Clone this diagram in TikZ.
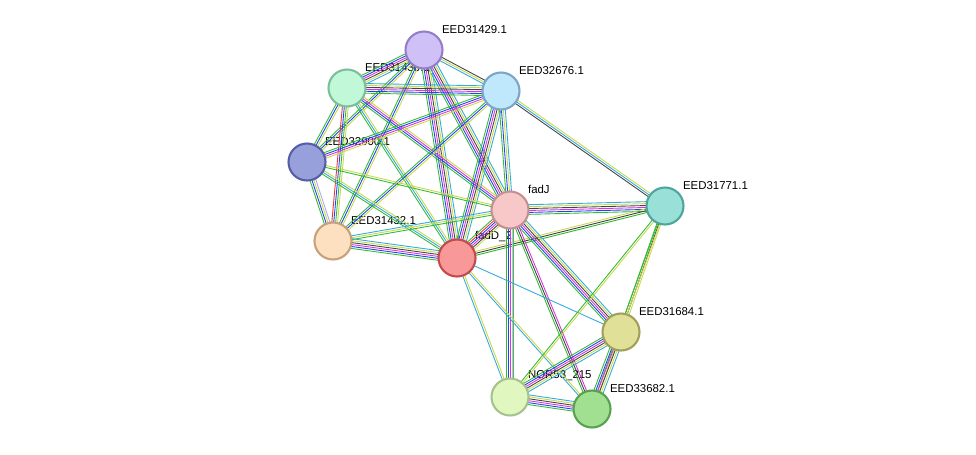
\documentclass[tikz,border=0pt]{standalone}
\usepackage{fontspec}
\setmainfont{Liberation Sans}
\usetikzlibrary{calc}
\definecolor{lgreen}{HTML}{33BB33}
\definecolor{lblue}{HTML}{2244EE}
\definecolor{lmag}{HTML}{DD33DD}
\definecolor{lblack}{HTML}{444444}
\definecolor{lyel}{HTML}{C8D848}
\definecolor{lcyan}{HTML}{33AADD}
\definecolor{lred}{HTML}{EE3333}
\definecolor{llav}{HTML}{B0A8F0}
\definecolor{f29}{HTML}{D0C0F8}\definecolor{d29}{HTML}{967DC8}
\definecolor{f30}{HTML}{C0F8D8}\definecolor{d30}{HTML}{7DBE9B}
\definecolor{f76}{HTML}{C0E8FC}\definecolor{d76}{HTML}{7DA5C8}
\definecolor{f00}{HTML}{98A0DC}\definecolor{d00}{HTML}{555FA5}
\definecolor{fJ}{HTML}{F8C8C8}\definecolor{dJ}{HTML}{C39191}
\definecolor{f71}{HTML}{98E0D8}\definecolor{d71}{HTML}{50A59B}
\definecolor{f32}{HTML}{FDE0C0}\definecolor{d32}{HTML}{C8A07D}
\definecolor{fD}{HTML}{F89898}\definecolor{dD}{HTML}{C34B4B}
\definecolor{f84}{HTML}{E0E098}\definecolor{d84}{HTML}{A0A05A}
\definecolor{fN}{HTML}{E0F8C0}\definecolor{dN}{HTML}{A5C38C}
\definecolor{f82}{HTML}{A0E090}\definecolor{d82}{HTML}{5AA050}
\tikzset{
  prot/.style={circle,draw,line width=1.2pt,minimum size=0.74cm,inner sep=0pt},
  lab/.style={font=\fontsize{6.5}{7}\selectfont,anchor=south west,inner sep=1pt},
}
% one coloured line per colour, side by side
\newcommand{\linkab}[3]{%
  \foreach \c [count=\i] in {#3}{%
    \pgfmathsetmacro{\o}{(\i-1)*1.1-0.55*(\n-1)}%
    \draw[color=\c,line width=0.5pt] ($(#1)!\o pt!90:(#2)$) -- ($(#2)!\o pt!-90:(#1)$);
  }}
\newcommand{\link}[3]{\gdef\n{0}\foreach \c in {#3}{\xdef\n{\the\numexpr\n+1}}\linkab{#1}{#2}{#3}}
\begin{document}
\begin{tikzpicture}[x=0.02cm,y=-0.02cm]
\useasboundingbox (0,0) rectangle (976,454);
% positions
\coordinate (p29) at (424,50);
\coordinate (p30) at (347,88);
\coordinate (p76) at (501,91);
\coordinate (p00) at (307,162);
\coordinate (pJ) at (510,210);
\coordinate (p71) at (665,206);
\coordinate (p32) at (333,241);
\coordinate (pD) at (457,258);
\coordinate (p84) at (621,332);
\coordinate (pN) at (510,397);
\coordinate (p82) at (592,409);
% labels
\node[lab] (l29) at ($(p29)+(16,-14)$) {EED31429.1};
\node[lab] (l30) at ($(p30)+(16,-14)$) {EED31430.1};
\node[lab] (l76) at ($(p76)+(16,-14)$) {EED32676.1};
\node[lab] (l00) at ($(p00)+(16,-14)$) {EED32900.1};
\node[lab] (lJ) at ($(pJ)+(16,-14)$) {fadJ};
\node[lab] (l71) at ($(p71)+(16,-14)$) {EED31771.1};
\node[lab] (l32) at ($(p32)+(16,-14)$) {EED31432.1};
\node[lab] (lD) at ($(pD)+(16,-14)$) {fadD\_2};
\node[lab] (l84) at ($(p84)+(16,-14)$) {EED31684.1};
\node[lab] (lN) at ($(pN)+(16,-14)$) {NOR53\_215};
\node[lab] (l82) at ($(p82)+(16,-14)$) {EED33682.1};
% links
\link{p29}{p30}{lgreen,lblue,lmag,lblack,lyel,lcyan}
\link{p29}{p76}{lcyan,lyel,lblack}
\link{p29}{p00}{lgreen,lblue,lyel}
\link{p29}{pJ}{lgreen,lblue,lmag,lblack,lyel,lcyan}
\link{p29}{pD}{lgreen,lblue,lmag,lblack,lyel,lcyan}
\link{p29}{p32}{lgreen,lblue,lyel}
\link{p30}{p76}{lgreen,lblue,lmag,lblack,lyel,lcyan}
\link{p30}{p00}{lgreen,lblue,lyel}
\link{p30}{p32}{lred,lblue,lgreen,lyel}
\link{p30}{pJ}{lgreen,lblue,lmag,lyel}
\link{p30}{pD}{lgreen,lcyan,lyel}
\link{p76}{p00}{lgreen,lblue,lmag,lyel}
\link{p76}{p32}{lgreen,lblue,lyel}
\link{p76}{pJ}{lgreen,lblue,lyel,lcyan}
\link{p76}{pD}{lgreen,lblue,lmag,lblack,lyel,lcyan}
\link{p76}{p71}{lblack,lcyan,lyel}
\link{p00}{p32}{lgreen,lblue,lyel,llav}
\link{p00}{pJ}{lgreen,lyel}
\link{p00}{pD}{lgreen,lcyan,lyel}
\link{p32}{pJ}{lgreen,lyel,lcyan}
\link{p32}{pD}{lgreen,lblue,lmag,lblack,lyel,lcyan}
\link{pJ}{pD}{lgreen,lred,lblue,lmag,lblack,lyel}
\link{pJ}{p71}{lgreen,lblue,lmag,lblack,lyel,lcyan}
\link{pD}{p71}{lgreen,lblack,lyel}
\link{pJ}{p84}{lgreen,lblue,lmag,lblack,lyel,lcyan}
\link{pJ}{pN}{lgreen,lblue,lmag,lyel,lcyan}
\link{pJ}{p82}{lgreen,lblack,lmag}
\link{pD}{p84}{lcyan}
\link{pD}{pN}{lcyan,lyel}
\link{pD}{p82}{lcyan,lyel}
\link{p71}{p84}{lgreen,lblack,lyel}
\link{p71}{pN}{lgreen,lyel}
\link{p71}{p82}{lgreen,lyel}
\link{p84}{pN}{lgreen,lblue,lmag,lblack,lyel,lcyan}
\link{p84}{p82}{lgreen,lblue,lmag,lblack,lyel,lcyan}
\link{pN}{p82}{lgreen,lblue,lmag,lblack,lyel,lcyan}
% proteins
\node[prot,fill=f29,draw=d29] (n29) at (p29) {};
\node[prot,fill=f30,draw=d30] (n30) at (p30) {};
\node[prot,fill=f76,draw=d76] (n76) at (p76) {};
\node[prot,fill=f00,draw=d00] (n00) at (p00) {};
\node[prot,fill=fJ,draw=dJ] (nJ) at (pJ) {};
\node[prot,fill=f71,draw=d71] (n71) at (p71) {};
\node[prot,fill=f32,draw=d32] (n32) at (p32) {};
\node[prot,fill=fD,draw=dD] (nD) at (pD) {};
\node[prot,fill=f84,draw=d84] (n84) at (p84) {};
\node[prot,fill=fN,draw=dN] (nN) at (pN) {};
\node[prot,fill=f82,draw=d82] (n82) at (p82) {};
\end{tikzpicture}
\end{document}
